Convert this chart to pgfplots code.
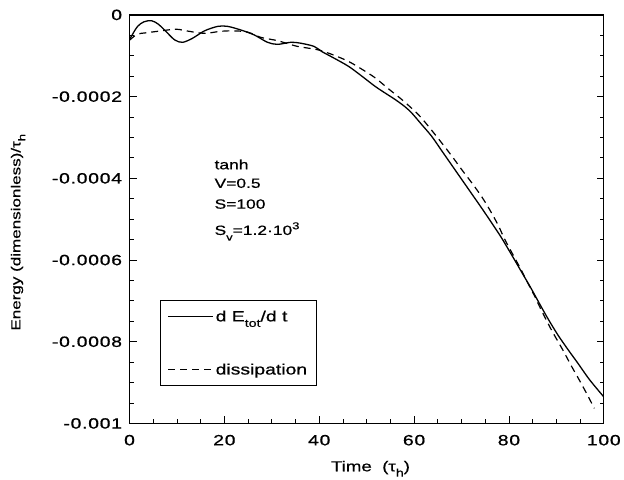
\documentclass[border=0pt]{standalone}
\usepackage{pgfplots}
\pgfplotsset{compat=1.18}
\usepackage{fontspec}
\setmainfont[FakeStretch=1.3, FakeBold=0.6]{Liberation Sans}
\newfontfamily\tickfont[FakeStretch=1.3, FakeBold=0.8, LetterSpace=5]{Liberation Sans}
\pgfplotstableread{
t v
0 -0.000060
0.5 -0.000050
1.7 -0.000028
3 -0.000017
4.6 -0.000014
6 -0.000022
7.4 -0.000037
9.5 -0.000061
11.2 -0.000067
13.3 -0.000057
15.8 -0.000039
18.6 -0.000028
20.7 -0.000028
23.5 -0.000037
26.3 -0.000049
29.1 -0.000067
31.2 -0.000072
34 -0.000067
36 -0.000069
38.9 -0.000077
40.6 -0.000090
43 -0.000105
46.2 -0.000126
49 -0.000150
51.8 -0.000175
54 -0.000192
56 -0.000207
58 -0.000224
59.5 -0.000240
61.5 -0.000267
63.7 -0.000297
65.8 -0.000332
67.9 -0.000367
70 -0.000402
72.1 -0.000437
74.2 -0.000472
76.3 -0.000508
78.4 -0.000545
80.5 -0.000586
82.6 -0.000628
84.7 -0.000670
86.5 -0.000708
88.3 -0.000745
90.3 -0.000783
92.5 -0.000820
94.5 -0.000852
97 -0.000893
100 -0.000935
}\dedt
\pgfplotstableread{
t v
0 -0.000062
1 -0.000052
2 -0.000046
3.3 -0.000044
6 -0.000040
9.8 -0.000035
12.5 -0.000040
15.8 -0.000045
19.3 -0.000040
22 -0.000039
24.9 -0.000042
27.7 -0.000055
31.2 -0.000063
35.4 -0.000077
39.6 -0.000085
43 -0.000098
46.2 -0.000114
49 -0.000133
51.8 -0.000154
54.5 -0.000180
57.4 -0.000207
60.9 -0.000244
63.4 -0.000278
65.8 -0.000313
68 -0.000346
70 -0.000378
72.1 -0.000410
74.2 -0.000444
76 -0.000478
77.7 -0.000514
79.1 -0.000549
80.9 -0.000588
82.3 -0.000618
83.7 -0.000650
85.4 -0.000688
86.8 -0.000722
89 -0.000772
91.4 -0.000821
93.1 -0.000858
94.8 -0.000893
96.3 -0.000925
98.0 -0.000963
}\diss
\begin{document}
\begin{tikzpicture}
\path (0bp,0bp) rectangle (624bp,481bp);
\begin{axis}[
 at={(130bp,56bp)}, anchor=south west,
 scale only axis, width=476bp, height=410bp,
 xmin=0, xmax=100, ymin=-0.001, ymax=0,
 xtick={0,20,40,60,80,100},
 xticklabels={0,20,40,60,80,100},
 minor x tick num=3,
 ytick={-0.001,-0.0008,-0.0006,-0.0004,-0.0002,0},
 yticklabels={-0.001,-0.0008,-0.0006,-0.0004,-0.0002,0},
 minor y tick num=3,
 scaled y ticks=false, scaled x ticks=false,
 tick align=inside,
 xtick pos=bottom, ytick pos=both,
 major tick length=7bp, minor tick length=4bp,
 axis line style={line width=1.3bp},
 every tick/.style={line width=0.9bp, black},
 tick label style={font=\tickfont\fontsize{15}{18}\selectfont},
 xticklabel style={yshift=-8bp},
 yticklabel style={xshift=-4bp},
 xlabel={Time\ \ (τ\raisebox{-0.7ex}{\fontsize{11}{11}\selectfont h})},
 xlabel style={font=\fontsize{14.5}{17}\selectfont, at={(axis description cs:0.508,-0.117)}, anchor=base},
 ylabel={Energy (dimensionless)/τ\raisebox{-0.7ex}{\fontsize{10}{10}\selectfont h}},
 ylabel style={font=\fontsize{13.2}{16}\selectfont, at={(axis description cs:-0.235,0.468)}, anchor=center},
 legend style={at={(axis cs:6.5,-0.000698)}, anchor=north west, draw=black,
   line width=1.1bp, font=\fontsize{15}{18}\selectfont, row sep=37bp,
   inner xsep=7bp, inner ysep=8bp, fill=white},
 legend cell align=left,
 legend image code/.code={\draw[#1, line width=1bp] (0bp,0bp) -- (45bp,0bp);},
]
\addplot[black, line width=1.3bp, smooth] table[x=t,y=v]{\dedt};
\addlegendentry{d E\raisebox{-0.7ex}{\fontsize{11}{11}\selectfont tot}/d t}
\addplot[black, line width=1.2bp, smooth, dash pattern=on 7bp off 5bp] table[x=t,y=v]{\diss};
\addlegendentry{dissipation}
\node[anchor=west, font=\fontsize{13.5}{16}\selectfont] at (axis cs:17.2,-0.000366) {tanh};
\node[anchor=west, font=\fontsize{13.5}{16}\selectfont] at (axis cs:17.2,-0.000412) {V=0.5};
\node[anchor=west, font=\fontsize{13.5}{16}\selectfont] at (axis cs:17.2,-0.000463) {S=100};
\node[anchor=west, font=\fontsize{13.5}{16}\selectfont] at (axis cs:17.2,-0.000530) {S\raisebox{-0.8ex}{\fontsize{10}{10}\selectfont v}=1.2·10\raisebox{0.8ex}{\fontsize{10}{10}\selectfont 3}};
\end{axis}
\end{tikzpicture}
\end{document}
